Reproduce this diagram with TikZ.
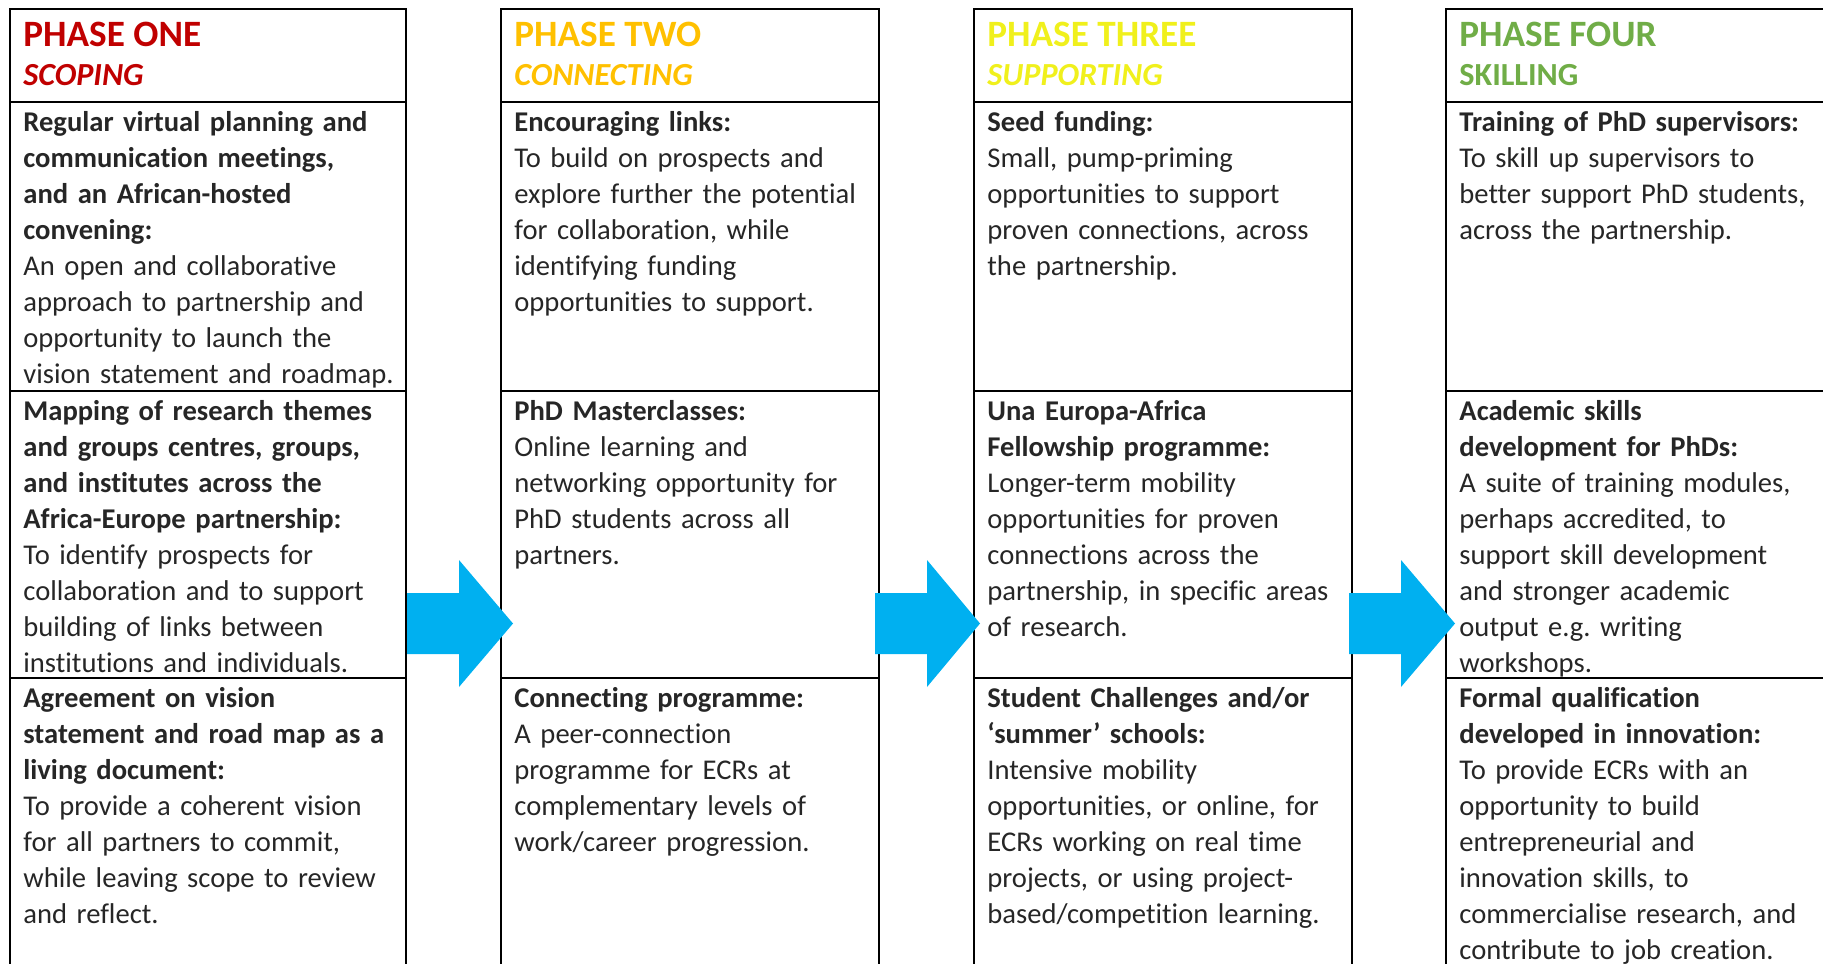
\documentclass[tikz,border=0pt]{standalone}
\usepackage{fontspec}
\setmainfont{Carlito}[Ligatures=NoCommon]
\usetikzlibrary{positioning}
\definecolor{phaseone}{HTML}{C00000}
\definecolor{phasetwo}{HTML}{FFC000}
\definecolor{phasethree}{HTML}{F0F01C}
\definecolor{phasefour}{HTML}{70AD47}
\definecolor{arrowblue}{HTML}{00B0F0}
\frenchspacing

\begin{document}
\begin{tikzpicture}[x=0.5pt,y=-0.5pt,
  outline/.style={line width=0.9pt},
  blockarrow/.style={fill=arrowblue},
  phasetitle/.style={anchor=base west,inner sep=0pt,font=\fontsize{18.6}{22}\selectfont\bfseries},
  phasesub/.style={anchor=base west,inner sep=0pt,font=\fontsize{16.1}{18}\selectfont\bfseries},
  cell/.style={anchor=north west,inner sep=0pt,align=left,text width=200pt,
    text=black!85,font=\fontsize{14.3}{18}\selectfont}]
  \useasboundingbox (0,0) rectangle (1823,963);
  \clip (0,0) rectangle (1823,963);
% Phase one outline
  \draw[outline] (10,9) rectangle (406,1000);
  \draw[outline] (10,102) -- (406,102);
  \draw[outline] (10,391) -- (406,391);
  \draw[outline] (10,678) -- (406,678);
% Phase two outline
  \draw[outline] (501,9) rectangle (879,1000);
  \draw[outline] (501,102) -- (879,102);
  \draw[outline] (501,391) -- (879,391);
  \draw[outline] (501,678) -- (879,678);
% Phase three outline
  \draw[outline] (974,9) rectangle (1352,1000);
  \draw[outline] (974,102) -- (1352,102);
  \draw[outline] (974,391) -- (1352,391);
  \draw[outline] (974,678) -- (1352,678);
% Phase four outline (runs off the right edge)
  \draw[outline] (1446,9) rectangle (1824,1000);
  \draw[outline] (1446,102) -- (1824,102);
  \draw[outline] (1446,391) -- (1824,391);
  \draw[outline] (1446,678) -- (1824,678);

% Headings
  \node[phasetitle,text=phaseone] (oneTitle) at (23,47) {PHASE ONE};
  \node[phasesub,text=phaseone] (oneSub) at (23,86) {\itshape SCOPING};
  \node[phasetitle,text=phasetwo] (twoTitle) at (514,47) {PHASE TWO};
  \node[phasesub,text=phasetwo] (twoSub) at (514,86) {\itshape CONNECTING};
  \node[phasetitle,text=phasethree] (threeTitle) at (987,47) {PHASE THREE};
  \node[phasesub,text=phasethree] (threeSub) at (987,86) {\itshape SUPPORTING};
  \node[phasetitle,text=phasefour] (fourTitle) at (1459,47) {PHASE FOUR};
  \node[phasesub,text=phasefour] (fourSub) at (1459,86) {SKILLING};

% Phase one cells
  \node[cell] (oneA) at (23,105.8) {\strut{\bfseries Regular virtual planning and\\
    communication meetings,\\ and an African-hosted\\ convening:}\\
    An open and collaborative\\ approach to partnership and\\
    opportunity to launch the\\ vision statement and roadmap.};
  \node[cell] (oneB) at (23,394.8) {\strut{\bfseries Mapping of research themes\\
    and groups centres, groups,\\ and institutes across the\\
    Africa-Europe partnership:}\\ To identify prospects for\\
    collaboration and to support\\ building of links between\\
    institutions and individuals.};
  \node[cell] (oneC) at (23,681.8) {\strut{\bfseries Agreement on vision\\
    statement and road map as a\\ living document:}\\
    To provide a coherent vision\\ for all partners to commit,\\
    while leaving scope to review\\ and reflect.};

% Phase two cells
  \node[cell] (twoA) at (514,105.8) {\strut{\bfseries Encouraging links:}\\
    To build on prospects and\\ explore further the potential\\
    for collaboration, while\\ identifying funding\\
    opportunities to support.};
  \node[cell] (twoB) at (514,394.8) {\strut{\bfseries PhD Masterclasses:}\\
    Online learning and\\ networking opportunity for\\
    PhD students across all\\ partners.};
  \node[cell] (twoC) at (514,681.8) {\strut{\bfseries Connecting programme:}\\
    A peer-connection\\ programme for ECRs at\\
    complementary levels of\\ work/career progression.};

% Phase three cells
  \node[cell] (threeA) at (987,105.8) {\strut{\bfseries Seed funding:}\\
    Small, pump-priming\\ opportunities to support\\
    proven connections, across\\ the partnership.};
  \node[cell] (threeB) at (987,394.8) {\strut{\bfseries Una Europa-Africa\\
    Fellowship programme:}\\ Longer-term mobility\\
    opportunities for proven\\ connections across the\\
    partnership, in specific areas\\ of research.};
  \node[cell] (threeC) at (987,681.8) {\strut{\bfseries Student Challenges and/or\\
    ‘summer’ schools:}\\ Intensive mobility\\
    opportunities, or online, for\\ ECRs working on real time\\
    projects, or using project-\\ based/competition learning.};

% Phase four cells
  \node[cell] (fourA) at (1459,105.8) {\strut{\bfseries Training of PhD supervisors:}\\
    To skill up supervisors to\\ better support PhD students,\\
    across the partnership.};
  \node[cell] (fourB) at (1459,394.8) {\strut{\bfseries Academic skills\\
    development for PhDs:}\\ A suite of training modules,\\
    perhaps accredited, to\\ support skill development\\
    and stronger academic\\ output e.g. writing\\ workshops.};
  \node[cell] (fourC) at (1459,681.8) {\strut{\bfseries Formal qualification\\
    developed in innovation:}\\ To provide ECRs with an\\
    opportunity to build\\ entrepreneurial and\\
    innovation skills, to\\ commercialise research, and\\
    contribute to job creation.};

% Arrow one to two
  \fill[blockarrow] (407,593) -- ++(52,0) -- ++(0,-33) -- (513,623.5)
    -- (459,687) -- ++(0,-33) -- ++(-52,0) -- cycle;
% Arrow two to three
  \fill[blockarrow] (875,593) -- ++(52,0) -- ++(0,-33) -- (980,623.5)
    -- (927,687) -- ++(0,-33) -- ++(-52,0) -- cycle;
% Arrow three to four
  \fill[blockarrow] (1349,593) -- ++(52,0) -- ++(0,-33) -- (1455,623.5)
    -- (1401,687) -- ++(0,-33) -- ++(-52,0) -- cycle;
\end{tikzpicture}
\end{document}
